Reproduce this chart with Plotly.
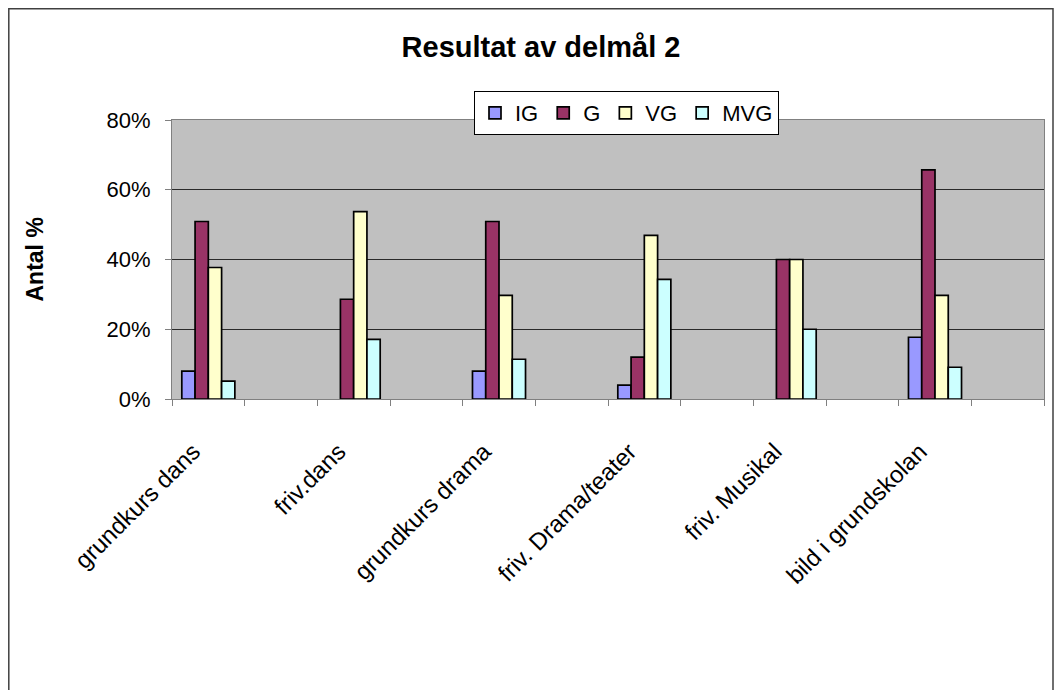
import plotly.graph_objects as go

categories = ["grundkurs dans", "friv.dans", "grundkurs drama",
              "friv. Drama/teater", "friv. Musikal", "bild i grundskolan"]
series_names = ["IG", "G", "VG", "MVG"]
ig = [8.0, 0.0, 8.0, 4.0, 0.0, 17.7]
g = [50.9, 28.6, 50.9, 12.0, 40.0, 65.7]
vg = [37.7, 53.7, 29.7, 46.9, 40.0, 29.7]
mvg = [5.1, 17.1, 11.4, 34.3, 20.0, 9.1]
colors = ["#9999FF", "#993366", "#FFFFCC", "#CCFFFF"]
y_ticks = [0, 20, 40, 60, 80]
y_ticklabels = ["0%", "20%", "40%", "60%", "80%"]

FONT = "Arial, Liberation Sans, sans-serif"

# each labelled category is followed by an empty one (as in the original)
xpos = [2 * i for i in range(len(categories))]

fig = go.Figure()
for name, vals, col in zip(series_names, [ig, g, vg, mvg], colors):
    fig.add_trace(go.Bar(
        x=xpos, y=vals, name=name,
        marker=dict(color=col,
                    line=dict(color="black",
                              width=[1.7 if v > 0 else 0 for v in vals])),
    ))

W, H = 1046, 682
fig.update_layout(
    width=W, height=H,
    margin=dict(l=164, r=10, t=112, b=291),
    paper_bgcolor="white",
    plot_bgcolor="#C0C0C0",
    barmode="group",
    bargap=0.635,
    bargroupgap=0,
    font=dict(family=FONT, size=22, color="black"),
    title=dict(text="<b>Resultat av delmål 2</b>", x=533 / W, xref="container",
               xanchor="center", y=1 - 39 / H, yref="container", yanchor="middle",
               font=dict(family=FONT, size=29, color="black")),
    legend=dict(orientation="h", x=(466 - 164) / 872, y=(391 - 83) / 279,
                xanchor="left", yanchor="top",
                bgcolor="white", bordercolor="black", borderwidth=1,
                font=dict(family=FONT, size=22), itemwidth=30,
                tracegroupgap=0),
    showlegend=True,
)

fig.update_xaxes(
    range=[-0.5, 2 * len(categories) - 0.5],
    tickmode="array", tickvals=xpos, ticktext=categories,
    tickangle=-45, ticks="", showgrid=False,
    ticklabelstandoff=28, ticklabelshift=-15,
    showline=True, linecolor="#808080", linewidth=1, mirror=True,
    tickfont=dict(family=FONT, size=24, color="black"),
    minor=dict(ticks="outside", ticklen=6, tickcolor="#808080", tick0=-0.5, dtick=1,
               showgrid=False),
    zeroline=False,
)
fig.update_yaxes(
    range=[0, 80], tickmode="array", tickvals=y_ticks, ticktext=y_ticklabels,
    ticks="outside", ticklen=6, tickcolor="#808080",
    ticklabelstandoff=10,
    showgrid=True, gridcolor="#2a2a2a", gridwidth=1,
    showline=True, linecolor="#808080", linewidth=1, mirror=True,
    tickfont=dict(family=FONT, size=22, color="black"),
    zeroline=False,
)

fig.add_annotation(text="<b>Antal %</b>", xref="paper", yref="paper",
                   x=(26 - 164) / 872, y=0.5, xanchor="center", yanchor="middle",
                   textangle=-90, showarrow=False,
                   font=dict(family=FONT, size=23, color="black"))

# outer chart border
fig.add_shape(type="rect", xref="paper", yref="paper",
              x0=(0.8 - 164) / 872, x1=(1045 - 164) / 872,
              y0=-1.5, y1=(391 - 0.8) / 279,
              line=dict(color="#404040", width=1.5), fillcolor="rgba(0,0,0,0)",
              layer="below")

fig.write_html("out.html")
